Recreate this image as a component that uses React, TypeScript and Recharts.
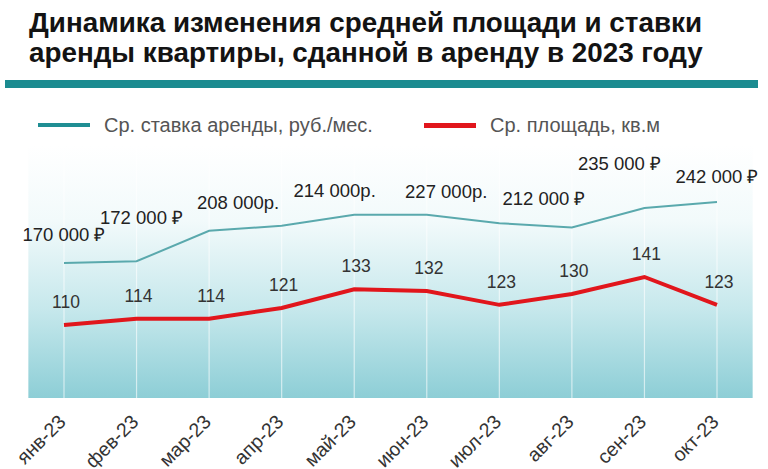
import { CartesianGrid, ComposedChart, LabelList, Legend, Line, XAxis, YAxis } from 'recharts';

const months = ['янв-23', 'фев-23', 'мар-23', 'апр-23', 'май-23', 'июн-23', 'июл-23', 'авг-23', 'сен-23', 'окт-23'];
// ср. ставка аренды, руб./мес.
const rent = [170000, 172000, 208000, 214000, 227000, 227000, 217000, 212000, 235000, 242000];
// ср. площадь, кв.м
const area = [110, 114, 114, 121, 133, 132, 123, 130, 141, 123];
// подписи ставки как на исходнике (у июня и июля их нет)
const rentLabels = ['170 000 ₽', '172 000 ₽', '208 000р.', '214 000р.', '227 000р.', '', '', '212 000 ₽', '235 000 ₽', '242 000 ₽'];

// сдвиг подписей ставки относительно точки
const rentLabelDx = [0, 5, 29, 53, 92, 0, 0, -28, -25, 0];
const rentLabelDy = [-28, -44, -28, -35, -23, 0, 0, -29, -44, -26];

const TEAL = '#5aa9ad';
const TEAL_DARK = '#1f8e93';
const RED = '#e1161c';
const FONT = '"Liberation Sans", Arial, sans-serif';
const seriesOrder = ['rent', 'area'];

const data = months.map((m, i) => ({ month: m, rent: rent[i], area: area[i] }));

function MonthTick({ x, y, payload }: any) {
  const bx = x + 3;
  const by = y + 17;
  return (
    <text
      x={bx}
      y={by}
      transform={`rotate(-45 ${bx} ${by})`}
      textAnchor="end"
      fontSize={19.5}
      fontFamily={FONT}
      fill="#333"
    >
      {payload.value}
    </text>
  );
}

function RentLabel({ x, y, index }: any) {
  const t = rentLabels[index];
  if (!t) return null;
  return (
    <text
      x={x + rentLabelDx[index]}
      y={y + rentLabelDy[index]}
      textAnchor="middle"
      dominantBaseline="central"
      fontSize={18.5}
      fontFamily={FONT}
      fill="#222"
    >
      {t}
    </text>
  );
}

function AreaLabel({ x, y, value }: any) {
  return (
    <text
      x={x + 2}
      y={y - 23}
      textAnchor="middle"
      dominantBaseline="central"
      fontSize={17.5}
      fontFamily={FONT}
      fill="#333"
    >
      {value}
    </text>
  );
}

const legendColors: Record<string, string> = { rent: TEAL_DARK, area: RED };

function LegendContent({ payload }: any) {
  const items = seriesOrder.map((k) => (payload || []).find((e: any) => e.dataKey === k)).filter(Boolean);
  return (
    <div style={{ display: 'flex', alignItems: 'center', height: 24, fontFamily: FONT }}>
      {items.map((e: any, i: number) => (
        <div key={e.dataKey} style={{ display: 'flex', alignItems: 'center', width: i === 0 ? 386 : 320, marginLeft: i === 0 ? 38 : 0 }}>
          <div style={{ width: 52, height: i === 0 ? 4 : 5, background: legendColors[e.dataKey] }} />
          <span style={{ marginLeft: 14, fontSize: 20, color: '#555', whiteSpace: 'nowrap' }}>{e.value}</span>
        </div>
      ))}
    </div>
  );
}

export default function App() {
  return (
    <div style={{ position: 'relative', width: 768, height: 469, background: '#fff', overflow: 'hidden' }}>
      <style>{'body{margin:0}'}</style>
      <div
        style={{
          position: 'absolute',
          top: 8,
          left: 29,
          fontFamily: FONT,
          fontWeight: 700,
          fontSize: 27.8,
          lineHeight: '30px',
          color: '#131313',
          whiteSpace: 'nowrap',
        }}
      >
        Динамика изменения средней площади и ставки
        <br />
        аренды квартиры, сданной в аренду в 2023 году
      </div>
      <div style={{ position: 'absolute', top: 80, left: 5, width: 753, height: 8, background: '#1b8b90' }} />
      <ComposedChart width={768} height={469} data={data} margin={{ top: 121, right: 15, bottom: 41, left: 28 }}>
        <defs>
          <linearGradient id="plotBg" x1="0" y1="0" x2="0" y2="1">
            <stop offset="0%" stopColor="#ffffff" />
            <stop offset="30%" stopColor="#f2fafb" />
            <stop offset="65%" stopColor="#c6e8ec" />
            <stop offset="100%" stopColor="#8dced6" />
          </linearGradient>
        </defs>
        <CartesianGrid
          horizontal={false}
          stroke="#ffffff"
          strokeOpacity={0.6}
          strokeWidth={1.2}
          fill="url(#plotBg)"
          fillOpacity={1}
        />
        <XAxis
          dataKey="month"
          axisLine={false}
          tickLine={false}
          interval={0}
          tick={<MonthTick />}
          height={30}
          padding={{ left: 36, right: 36 }}
        />
        <YAxis yAxisId="rent" hide domain={[10600, 309300]} />
        <YAxis yAxisId="area" hide domain={[62.8, 226.3]} />
        <Legend
          verticalAlign="top"
          content={<LegendContent />}
          wrapperStyle={{ top: 113, left: 0, width: 768, height: 24 }}
        />
        <Line
          yAxisId="rent"
          type="linear"
          dataKey="rent"
          name="Ср. ставка аренды, руб./мес."
          stroke={TEAL}
          strokeWidth={2}
          dot={false}
          isAnimationActive={false}
        >
          <LabelList dataKey="rent" content={<RentLabel />} />
        </Line>
        <Line
          yAxisId="area"
          type="linear"
          dataKey="area"
          name="Ср. площадь, кв.м"
          stroke={RED}
          strokeWidth={4}
          dot={false}
          isAnimationActive={false}
        >
          <LabelList dataKey="area" content={<AreaLabel />} />
        </Line>
      </ComposedChart>
    </div>
  );
}
